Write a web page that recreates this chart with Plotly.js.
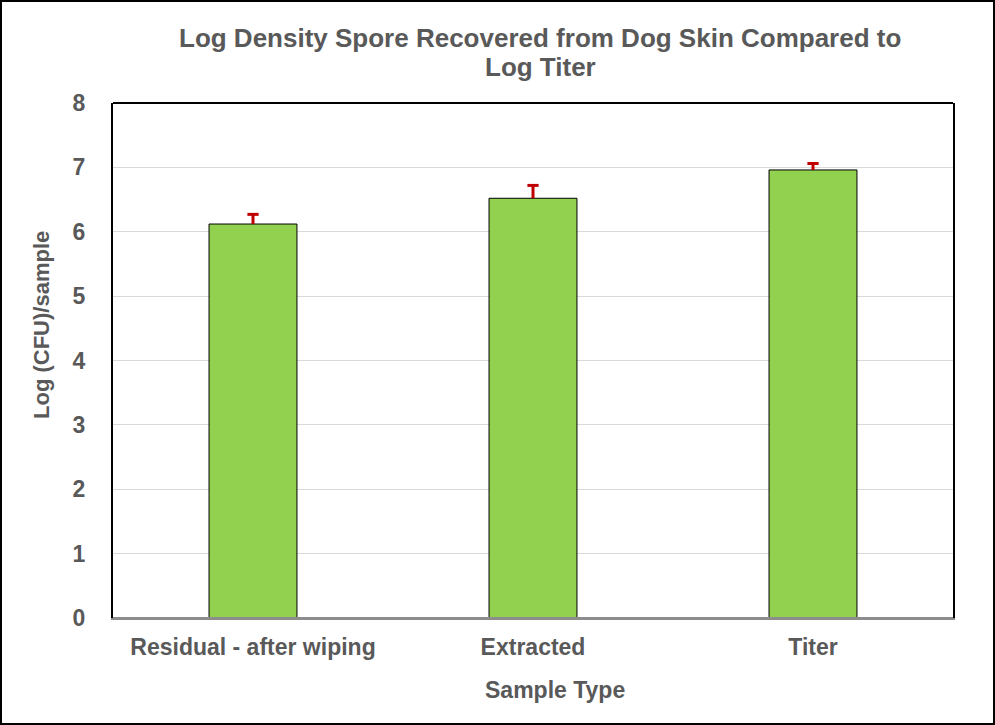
<!DOCTYPE html>
<html>
<head>
<meta charset="utf-8">
<script src="https://cdn.plot.ly/plotly-3.0.1.min.js"></script>
<style>
html,body{margin:0;padding:0;background:#fff;}
#wrap{width:995px;height:725px;box-sizing:border-box;border:2px solid #000;position:relative;overflow:hidden;}
#chart{position:absolute;left:-2px;top:-2px;width:995px;height:725px;}
</style>
</head>
<body>
<div id="wrap"><div id="chart"></div></div>
<script>
const categories = ["Residual - after wiping", "Extracted", "Titer"];
const logValues = [6.12, 6.52, 6.96];
const errorUp = [0.15, 0.2, 0.1];
const yTicks = [0, 1, 2, 3, 4, 5, 6, 7, 8];
const titleLines = ["Log Density Spore Recovered from Dog Skin Compared to", "Log Titer"];

const gray = "#595959";
const red = "#C00000";
const fontFam = "Liberation Sans, Arial, sans-serif";

const bars = {
  type: "bar",
  x: categories,
  y: logValues,
  width: 0.314,
  marker: {color: "#92D050", line: {color: "#000", width: 1}},
  error_y: {type: "data", symmetric: false, array: errorUp, arrayminus: [0,0,0], color: red, thickness: 3, width: 0},
  hoverinfo: "skip"
};
const caps = {
  type: "scatter",
  mode: "markers",
  x: categories,
  y: logValues.map((v, i) => v + errorUp[i]),
  marker: {symbol: "line-ew-open", size: 8, color: red, line: {color: red, width: 3}},
  hoverinfo: "skip"
};

const L = 113, R = 953, T = 103, B = 618;
const px = x => (x - L) / (R - L);
const py = y => (B - y) / (B - T);

const layout = {
  width: 995, height: 725,
  margin: {l: L, r: 995 - R, t: T, b: 725 - B},
  paper_bgcolor: "rgba(0,0,0,0)", plot_bgcolor: "#fff",
  showlegend: false,
  xaxis: {
    showline: true, linecolor: "#8c8c8c", linewidth: 2,
    tickfont: {family: fontFam, size: 23, color: gray},
    ticks: "", ticklabelstandoff: 7,
    tickprefix: "<b>", ticksuffix: "</b>"
  },
  yaxis: {
    range: [0, 8], tickvals: yTicks, ticktext: yTicks.map(v => "<b>" + v + "</b>"),
    showline: true, mirror: true, linecolor: "#000", linewidth: 2,
    showgrid: true, gridcolor: "#d9d9d9", gridwidth: 1,
    zeroline: false,
    tickfont: {family: fontFam, size: 23, color: gray},
    ticks: "", ticklabelstandoff: 21
  },
  annotations: [
    {text: "<b>" + titleLines[0] + "</b>", xref: "paper", yref: "paper", x: px(540), y: py(38), xanchor: "center", yanchor: "middle", showarrow: false, font: {family: fontFam, size: 26, color: gray}},
    {text: "<b>" + titleLines[1] + "</b>", xref: "paper", yref: "paper", x: px(540), y: py(67), xanchor: "center", yanchor: "middle", showarrow: false, font: {family: fontFam, size: 26, color: gray}},
    {text: "<b>Sample Type</b>", xref: "paper", yref: "paper", x: px(555), y: py(690), xanchor: "center", yanchor: "middle", showarrow: false, font: {family: fontFam, size: 23, color: gray}},
    {text: "<b>Log (CFU)/sample</b>", xref: "paper", yref: "paper", x: px(41), y: py(325), xanchor: "center", yanchor: "middle", textangle: -90, showarrow: false, font: {family: fontFam, size: 22, color: gray}}
  ],
  shapes: [
    {type: "line", xref: "paper", yref: "paper", x0: 0, x1: 1, y0: 1, y1: 1, line: {color: "#000", width: 2}},
    {type: "line", xref: "paper", yref: "paper", x0: 0, x1: 1, y0: 0, y1: 0, line: {color: "#8c8c8c", width: 2}}
  ]
};

Plotly.newPlot("chart", [bars, caps], layout, {displayModeBar: false, staticPlot: true});
</script>
</body>
</html>
